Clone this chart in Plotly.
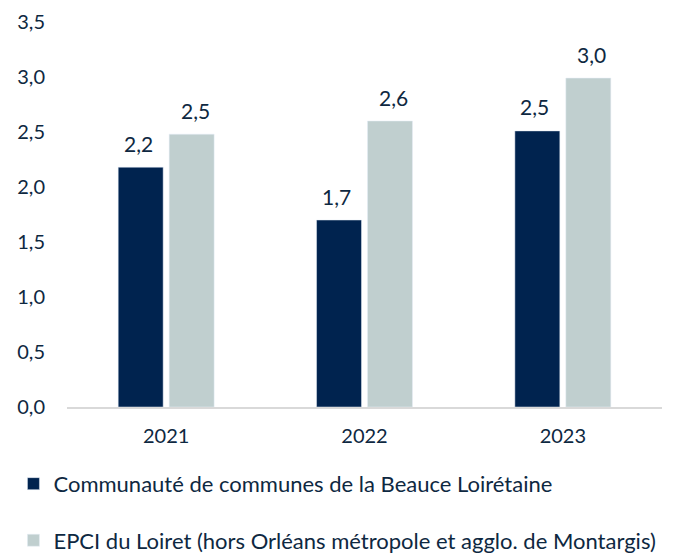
import plotly.graph_objects as go

years = ["2021", "2022", "2023"]
series_names = [
    "Communauté de communes de la Beauce Loirétaine",
    "EPCI du Loiret (hors Orléans métropole et agglo. de Montargis)",
]
beauce = [2.18, 1.70, 2.51]
epci = [2.48, 2.60, 2.99]
y_ticks = [0, 0.5, 1.0, 1.5, 2.0, 2.5, 3.0, 3.5]

navy = "#00234F"
grey = "#C0CFCF"
text_col = "#0E2841"
font_family = "Lato, 'Open Sans', sans-serif"

fig = go.Figure()
for i, (name, vals, col) in enumerate(zip(series_names, [beauce, epci], [navy, grey])):
    fig.add_trace(go.Bar(
        x=years, y=vals, name=name, marker_color=col,
        legendgroup=f"g{i}",
        hoverinfo="skip",
    ))

# data labels (x given as category index)
for i, vals in enumerate([beauce, epci]):
    shift = -28 if i == 0 else 29
    for k, v in enumerate(vals):
        fig.add_annotation(
            x=k, y=v, text=f"{v:.1f}".replace(".", ","),
            xref="x", yref="y", showarrow=False,
            xshift=shift, yshift=24, yanchor="middle",
            font=dict(size=21, color=text_col, family=font_family),
        )

fig.update_layout(
    width=666, height=549,
    margin=dict(l=59, r=12, t=14, b=150, autoexpand=False),
    plot_bgcolor="white", paper_bgcolor="white",
    barmode="group", bargap=0.486, bargroupgap=0.118,
    font=dict(family=font_family, size=21, color=text_col),
    legend=dict(
        orientation="v", x=-0.09, xanchor="left", y=-0.145, yanchor="top",
        font=dict(size=22, color=text_col, family=font_family),
        tracegroupgap=25, itemwidth=30,
    ),
    showlegend=True,
)
fig.update_xaxes(
    type="category", range=[-0.5, 2.5],
    showline=True, linecolor="#D9D9D9", linewidth=2,
    ticks="", showgrid=False, tickfont=dict(size=20, color=text_col),
    ticklabelstandoff=10,
)
fig.update_yaxes(
    range=[0, 3.5], tickvals=y_ticks,
    ticktext=[f"{t:.1f}".replace(".", ",") for t in y_ticks],
    showgrid=False, zeroline=False, showline=False, ticks="",
    tickfont=dict(size=20, color=text_col),
    ticklabelstandoff=21,
)

fig.write_html("out.html")
